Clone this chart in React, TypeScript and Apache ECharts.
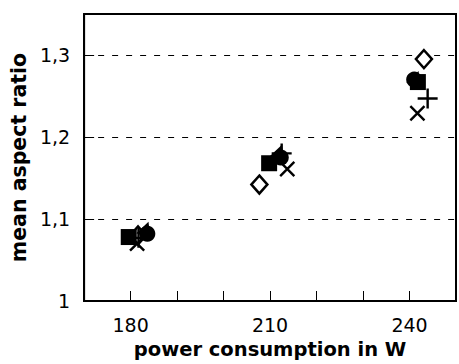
import React, { useEffect, useRef } from "react";
import * as echarts from "echarts";

// power consumption (W) / mean aspect ratio, per marker series
const filledSquare = [[179.6, 1.078], [209.8, 1.168], [241.8, 1.267]];
const filledCircle = [[183.6, 1.082], [212.3, 1.175], [241.0, 1.27]];
const filledTriangle = [[183.3, 1.088], [212.0, 1.182], [241.4, 1.272]];
const plusMarks = [[181.7, 1.077], [212.5, 1.18], [243.9, 1.247]];
const crossMarks = [[181.4, 1.07], [213.7, 1.161], [241.7, 1.229]];
const openDiamond = [[181.6, 1.08], [207.7, 1.142], [243.1, 1.295]];

const xLabels = [180, 210, 240];
const yLabels = [1, 1.1, 1.2, 1.3];

const PLUS = "path://M-10,-1.2H10V1.2H-10Z M-1.2,-10H1.2V10H-1.2Z";

export default function App() {
  const ref = useRef<HTMLDivElement>(null);
  useEffect(() => {
    if (!ref.current) return;
    const chart = echarts.init(ref.current, null, { renderer: "svg" });
    const font = "DejaVu Sans";
    const black = { color: "#000", opacity: 1 };
    chart.setOption({
      animation: false,
      backgroundColor: "#fff",
      grid: {
        left: 84,
        top: 14,
        width: 387,
        height: 290,
        show: true,
        borderColor: "#000",
        borderWidth: 2,
        backgroundColor: "transparent",
      },
      xAxis: {
        type: "value",
        min: 170,
        max: 250,
        interval: 10,
        name: "power consumption in W",
        nameLocation: "middle",
        nameGap: 38,
        nameTextStyle: { fontFamily: font, fontWeight: "bold", fontSize: 19.5, color: "#000" },
        axisLine: { lineStyle: { color: "#000", width: 2 } },
        axisTick: { inside: true, length: 10, lineStyle: { color: "#000", width: 1 } },
        axisLabel: {
          fontFamily: font,
          fontSize: 19,
          color: "#000",
          margin: 14,
          formatter: (v: number) => (xLabels.indexOf(Math.round(v)) >= 0 ? String(Math.round(v)) : ""),
        },
        splitLine: { show: false },
      },
      yAxis: {
        type: "value",
        min: 1,
        max: 1.35,
        interval: 0.1,
        name: "mean aspect ratio",
        nameLocation: "middle",
        nameGap: 49,
        nameTextStyle: { fontFamily: font, fontWeight: "bold", fontSize: 20.5, color: "#000" },
        axisLine: { lineStyle: { color: "#000", width: 2 } },
        axisTick: { inside: true, length: 10, lineStyle: { color: "#000", width: 1 } },
        axisLabel: {
          fontFamily: font,
          fontSize: 19,
          color: "#000",
          margin: 14,
          showMaxLabel: false,
          formatter: (v: number) => {
            const m = yLabels.find((l) => Math.abs(l - v) < 1e-6);
            if (m === undefined) return "";
            return m === 1 ? "1" : m.toFixed(1).replace(".", ",");
          },
        },
        splitLine: { show: true, lineStyle: { color: "#000", width: 1, type: [6, 8] } },
      },
      series: [
        {
          type: "scatter",
          data: openDiamond,
          symbol: "diamond",
          symbolSize: [16, 18],
          itemStyle: { color: "#fff", borderColor: "#000", borderWidth: 2.5, opacity: 1 },
          silent: true,
          z: 1,
        },
        {
          type: "scatter",
          data: crossMarks,
          symbol: PLUS,
          symbolSize: 20,
          symbolRotate: 45,
          itemStyle: black,
          silent: true,
          z: 2,
        },
        {
          type: "scatter",
          data: plusMarks,
          symbol: PLUS,
          symbolSize: 20,
          itemStyle: black,
          silent: true,
          z: 3,
        },
        {
          type: "scatter",
          data: filledSquare,
          symbol: "rect",
          symbolSize: 16,
          itemStyle: black,
          silent: true,
          z: 4,
        },
        {
          type: "scatter",
          data: filledCircle,
          symbol: "circle",
          symbolSize: 16,
          itemStyle: black,
          silent: true,
          z: 4,
        },
        {
          type: "scatter",
          data: filledTriangle,
          symbol: "triangle",
          symbolSize: 15,
          symbolRotate: -20,
          itemStyle: black,
          silent: true,
          z: 4,
        },
      ],
    });
    return () => chart.dispose();
  }, []);
  return <div ref={ref} style={{ width: 459, height: 364, position: "absolute", left: 0, top: 0 }} />;
}
